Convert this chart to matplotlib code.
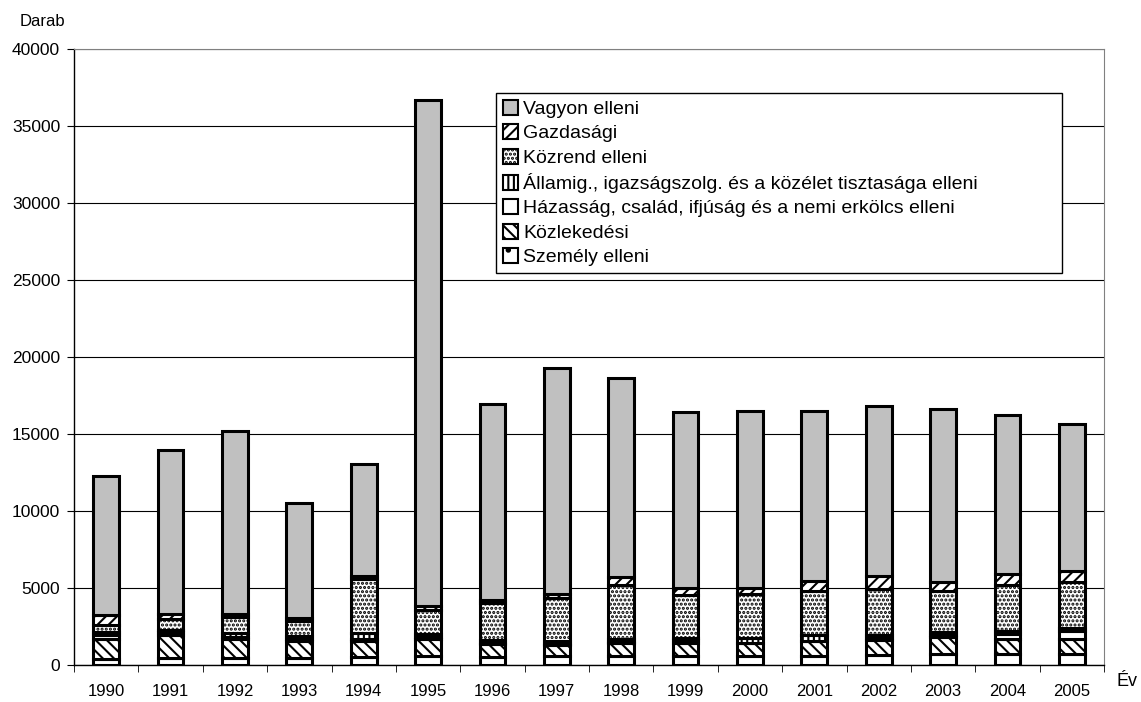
import numpy as np
import matplotlib
matplotlib.use("Agg")
import matplotlib.pyplot as plt
from matplotlib.patches import Patch

plt.rcParams['font.family'] = ['Liberation Sans', 'DejaVu Sans']
plt.rcParams['hatch.linewidth'] = 1.5

# data
years = ['1990', '1991', '1992', '1993', '1994', '1995', '1996', '1997',
         '1998', '1999', '2000', '2001', '2002', '2003', '2004', '2005']
szemely = [420, 430, 430, 430, 520, 600, 540, 560, 560, 600, 600, 600, 650, 700, 700, 700]
kozlekedesi = [1250, 1500, 1260, 1150, 1050, 1100, 800, 720, 860, 820, 800, 930, 1000, 1100, 1000, 1000]
hazassag = [250, 200, 150, 100, 100, 100, 100, 100, 100, 200, 50, 50, 100, 150, 300, 500]
allamig = [200, 150, 250, 200, 400, 200, 200, 200, 200, 150, 300, 350, 200, 200, 200, 200]
kozrend = [450, 700, 1000, 950, 3500, 1600, 2400, 2800, 3500, 2800, 2850, 2850, 3000, 2650, 3000, 3000]
gazdasagi = [700, 300, 250, 250, 200, 250, 200, 250, 500, 400, 400, 700, 850, 600, 700, 700]
vagyon = [9030, 10670, 11860, 7420, 7280, 32850, 12710, 14670, 12930, 11480, 11500, 11020, 11050, 11250, 10350, 9550]

series = [
    ('Személy elleni', szemely, 'white', '.'),
    ('Közlekedési', kozlekedesi, 'white', '\\\\\\'),
    ('Házasság, család, ifjúság és a nemi erkölcs elleni', hazassag, 'white', ''),
    ('Államig., igazságszolg. és a közélet tisztasága elleni', allamig, 'white', '|||'),
    ('Közrend elleni', kozrend, 'white', '....'),
    ('Gazdasági', gazdasagi, 'white', '///'),
    ('Vagyon elleni', vagyon, '#c0c0c0', ''),
]

fig = plt.figure(figsize=(11.41, 7.02), dpi=100)
ax = fig.add_axes([74 / 1141, 1 - 665 / 702, 1030 / 1141, 616 / 702])

x = np.arange(len(years))
bottom = np.zeros(len(years))
handles = []
for name, vals, fc, hatch in series:
    ax.bar(x, vals, width=0.4, bottom=bottom, color=fc, edgecolor='black',
           linewidth=2.2, hatch=hatch, zorder=3)
    bottom += np.array(vals)
    handles.append(Patch(facecolor=fc, edgecolor='black', hatch=hatch, linewidth=1.5, label=name))

ax.set_xlim(-0.5, len(years) - 0.5)
ax.set_ylim(0, 40000)
ax.set_yticks(np.arange(0, 40001, 5000))
ax.yaxis.grid(True, color='black', linewidth=0.8, zorder=0)
ax.tick_params(axis='y', labelsize=12.5, length=5, direction='out', pad=5)

ax.set_xticks(x)
ax.set_xticklabels(years, fontsize=12)
ax.tick_params(axis='x', length=0, pad=14)
ax.set_xticks(np.arange(-0.5, len(years)), minor=True)
ax.tick_params(axis='x', which='minor', length=5, direction='out')

for s in ['left', 'bottom']:
    ax.spines[s].set_linewidth(1.0)
for s in ['top', 'right']:
    ax.spines[s].set_color('#808080')

fig.text(42 / 1141, 1 - 21 / 702, 'Darab', fontsize=12, ha='center', va='center')
fig.text(1127 / 1141, 1 - 682 / 702, 'Év', fontsize=13, ha='center', va='center')

leg = ax.legend(handles[::-1], [h.get_label() for h in handles[::-1]],
                loc='upper left', mode='expand',
                bbox_to_anchor=(496 / 1141, 1 - 283 / 702, 566 / 1141, 190 / 702),
                bbox_transform=fig.transFigure, fontsize=14, frameon=True,
                fancybox=False, edgecolor='black', framealpha=1,
                handlelength=0.8, handleheight=0.8, handletextpad=0.25,
                labelspacing=0.32, borderpad=0.35, borderaxespad=0)
leg.get_frame().set_linewidth(1.0)
leg.set_zorder(5)

fig.savefig('out.png', dpi=100)
